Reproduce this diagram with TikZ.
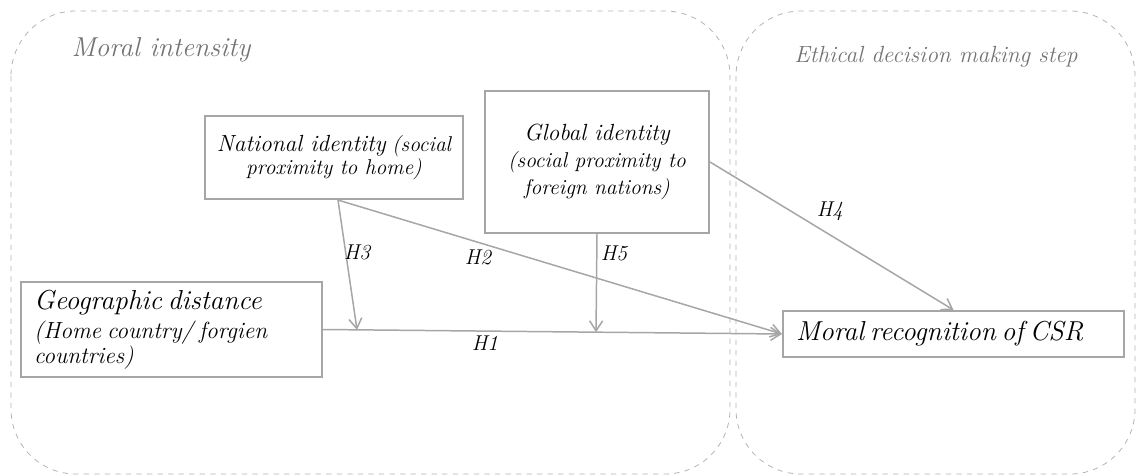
\documentclass[tikz,border=0pt]{standalone}
\usepackage{tikz}
\usetikzlibrary{arrows.meta,calc}

\newcommand{\tamA}{\fontsize{15.6}{18.5}\selectfont}
\newcommand{\tamB}{\fontsize{13.3}{16.5}\selectfont}
\newcommand{\tamC}{\fontsize{12.2}{15.5}\selectfont}

\begin{document}
\begin{tikzpicture}[line width=0.85pt,>={Straight Barb[length=2mm,width=2.6mm]},
  caja/.style={draw=black!35,line width=1.2pt,font=\itshape,inner sep=0pt},
  grupo/.style={draw=black!30,dashed,line width=0.45pt,rounded corners=1.3cm},
  flecha/.style={->,draw=black!35},
  hip/.style={font=\itshape\tamC,inner sep=1pt}]
  \useasboundingbox (0,0) rectangle (22.74,-9.5);
  % grupos
  \draw[grupo] (0.22,-0.22) rectangle (14.6,-9.48);
  \draw[grupo] (14.72,-0.22) rectangle (22.7,-9.48);
  \node[text=black!55,font=\itshape\tamA] (tmoral) at (3.22,-1.0) {Moral intensity};
  \node[text=black!55,font=\itshape\tamB] (tetica) at (18.72,-1.14) {Ethical decision making step};
  % cajas
  \node[caja,minimum width=5.16cm,minimum height=1.66cm,align=center] (nat) at (6.68,-3.15)
    {{\tamB National identity} \tamC(social\\\tamC proximity to home)};
  \node[caja,minimum width=4.48cm,minimum height=2.84cm,align=center] (glob) at (11.94,-3.24)
    {{\tamB Global identity}\\[3pt]\tamC (social proximity to\\[2pt]\tamC foreign nations)};
  \node[caja,minimum width=6.02cm,minimum height=1.9cm,text width=5.5cm,align=left] (geo) at (3.43,-6.59)
    {{\tamA Geographic distance}\\\tamB (Home country/ forgien\\\tamB countries)};
  \node[caja,minimum width=6.82cm,minimum height=0.92cm,text width=6.3cm,align=left] (mr) at (19.07,-6.68)
    {\tamA Moral recognition of CSR};
  % flechas
  \coordinate (n0) at ($(nat.south)+(0.08,0)$);
  \coordinate (m3) at ($(geo.east)!0.074!(mr.west)$);
  \coordinate (m5) at ($(geo.east)!(glob.south)!(mr.west)$);
  \draw[flecha] (geo.east) -- (mr.west);
  \draw[flecha] (n0) -- (mr.west);
  \draw[flecha] (n0) -- (m3);
  \draw[flecha] (glob.south) -- (m5);
  \draw[flecha] (glob.east) -- (mr.north);
  \node[hip] (h1) at (9.7,-6.86) {H1};
  \node[hip] (h2) at (9.56,-5.14) {H2};
  \node[hip] (h3) at (7.14,-5.04) {H3};
  \node[hip] (h4) at (16.6,-4.22) {H4};
  \node[hip] (h5) at (12.28,-5.06) {H5};
\end{tikzpicture}
\end{document}
